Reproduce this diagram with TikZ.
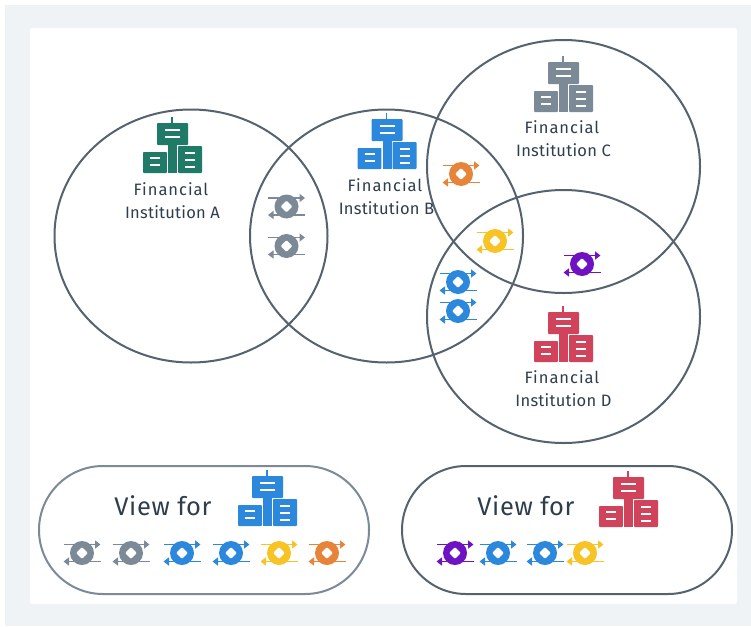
\documentclass[tikz,border=0pt]{standalone}
\usepackage{fontspec}
\setmainfont{Fira Sans}
\newfontfamily\lblfont[LetterSpace=1.5]{Fira Sans}
\newfontfamily\finfont[LetterSpace=6]{Fira Sans}
\newfontfamily\viewfont[LetterSpace=2.5]{Fira Sans}
\newcommand{\finword}{{\finfont\fontsize{16.5}{23}\selectfont Financial}\hspace*{3pt}}
\usetikzlibrary{arrows.meta}
\definecolor{cGreen}{HTML}{1F7A68}
\definecolor{cBlue}{HTML}{2B88DC}
\definecolor{cGray}{HTML}{7C8A98}
\definecolor{cRed}{HTML}{D1435B}
\definecolor{cOrange}{HTML}{E8833A}
\definecolor{cYellow}{HTML}{F8C324}
\definecolor{cPurple}{HTML}{6F12C4}
\definecolor{cLine}{HTML}{56636F}
\definecolor{cText}{HTML}{2F3E4C}
\definecolor{cBack}{HTML}{F0F3F6}
\tikzset{
  x=1pt,y=-1pt,
  venn/.style={draw=cLine,line width=2pt},
  pill/.style={line width=2pt,rounded corners=64pt},
  label/.style={text=cText,font=\lblfont\fontsize{16.5}{23}\selectfont,align=center,inner sep=0pt},
  viewlabel/.style={text=cText,font=\viewfont\fontsize{25.5}{28}\selectfont,inner sep=0pt},
  whitebar/.style={draw=white,line width=1.7pt},
}
% antenna top at #1,#2
\newcommand{\bldg}[3]{%
  \begin{scope}[shift={(#1,#2)}]
    \fill[#3,rounded corners=0.8pt] (-15,6) rectangle (16,28);
    \fill[#3] (-0.7,0) rectangle (0.7,6);
    \fill[#3] (-4,27) rectangle (5,56);
    \fill[#3,rounded corners=0.8pt] (-29,35) rectangle (-5.2,56);
    \fill[#3,rounded corners=0.8pt] (6,29) rectangle (30,56);
    \draw[whitebar] (-7,13) -- (8,13) (-7,20) -- (8,20);
    \draw[whitebar] (-22,41) -- (-12,41) (-22,48) -- (-12,48);
    \draw[whitebar] (13,36) -- (23,36) (13,43) -- (23,43) (13,50) -- (23,50);
  \end{scope}}
\newcommand{\xchg}[3]{%
  \begin{scope}[shift={(#1,#2)}]
    \draw[#3,line width=1.8pt,-{Triangle[length=5.5pt,width=8pt]}] (-18.5,-8.5) -- (18.5,-8.5);
    \draw[#3,line width=1.8pt,-{Triangle[length=5.5pt,width=8pt]}] (18.5,8.5) -- (-18.5,8.5);
    \fill[#3] (0,0) circle[radius=12];
    \fill[white,rounded corners=1pt] (0,-5.8) -- (5.8,0) -- (0,5.8) -- (-5.8,0) -- cycle;
  \end{scope}}
\begin{document}
\begin{tikzpicture}
\useasboundingbox (0,0) rectangle (751,626);
\fill[white] (0,0) rectangle (751,626);
\fill[cBack] (5,5) rectangle (751,626);
\fill[white,rounded corners=2pt] (30,28) rectangle (737,604);

\draw[venn] (191,236) ellipse[x radius=136.5,y radius=126.5];
\draw[venn] (386.5,236) ellipse[x radius=136.5,y radius=126.5];
\draw[venn] (563.5,166.5) ellipse[x radius=136.5,y radius=126.5];
\draw[venn] (563.5,316.5) ellipse[x radius=136.5,y radius=126.5];

\bldg{172}{117}{cGreen}
\bldg{386.5}{113}{cBlue}
\bldg{563}{56}{cGray}
\bldg{563}{306}{cRed}

\node[label] (instA) at (172.5,201) {\finword\\Institution A};
\node[label] (instB) at (386.5,197) {\finword\\Institution B};
\node[label] (instC) at (563.5,139) {\finword\\Institution C};
\node[label] (instD) at (563.5,389) {\finword\\Institution D};

\xchg{286.5}{206.5}{cGray}
\xchg{286.5}{246}{cGray}
\xchg{461}{174}{cOrange}
\xchg{495}{241}{cYellow}
\xchg{582}{264}{cPurple}
\xchg{458}{282}{cBlue}
\xchg{458}{311}{cBlue}

\draw[pill,draw=cGray] (39,466) rectangle (369,594);
\draw[pill,draw=cLine] (402,466) rectangle (732,594);

\node[viewlabel] (viewL) at (163,506) {View for};
\node[viewlabel] (viewR) at (526,506) {View for};
\bldg{267}{470}{cBlue}
\bldg{628}{471}{cRed}

\xchg{82}{553}{cGray}
\xchg{131}{553}{cGray}
\xchg{182}{553}{cBlue}
\xchg{231}{553}{cBlue}
\xchg{279}{553}{cYellow}
\xchg{327}{553}{cOrange}

\xchg{455}{553}{cPurple}
\xchg{498}{553}{cBlue}
\xchg{545}{553}{cBlue}
\xchg{585}{553}{cYellow}
\end{tikzpicture}
\end{document}
